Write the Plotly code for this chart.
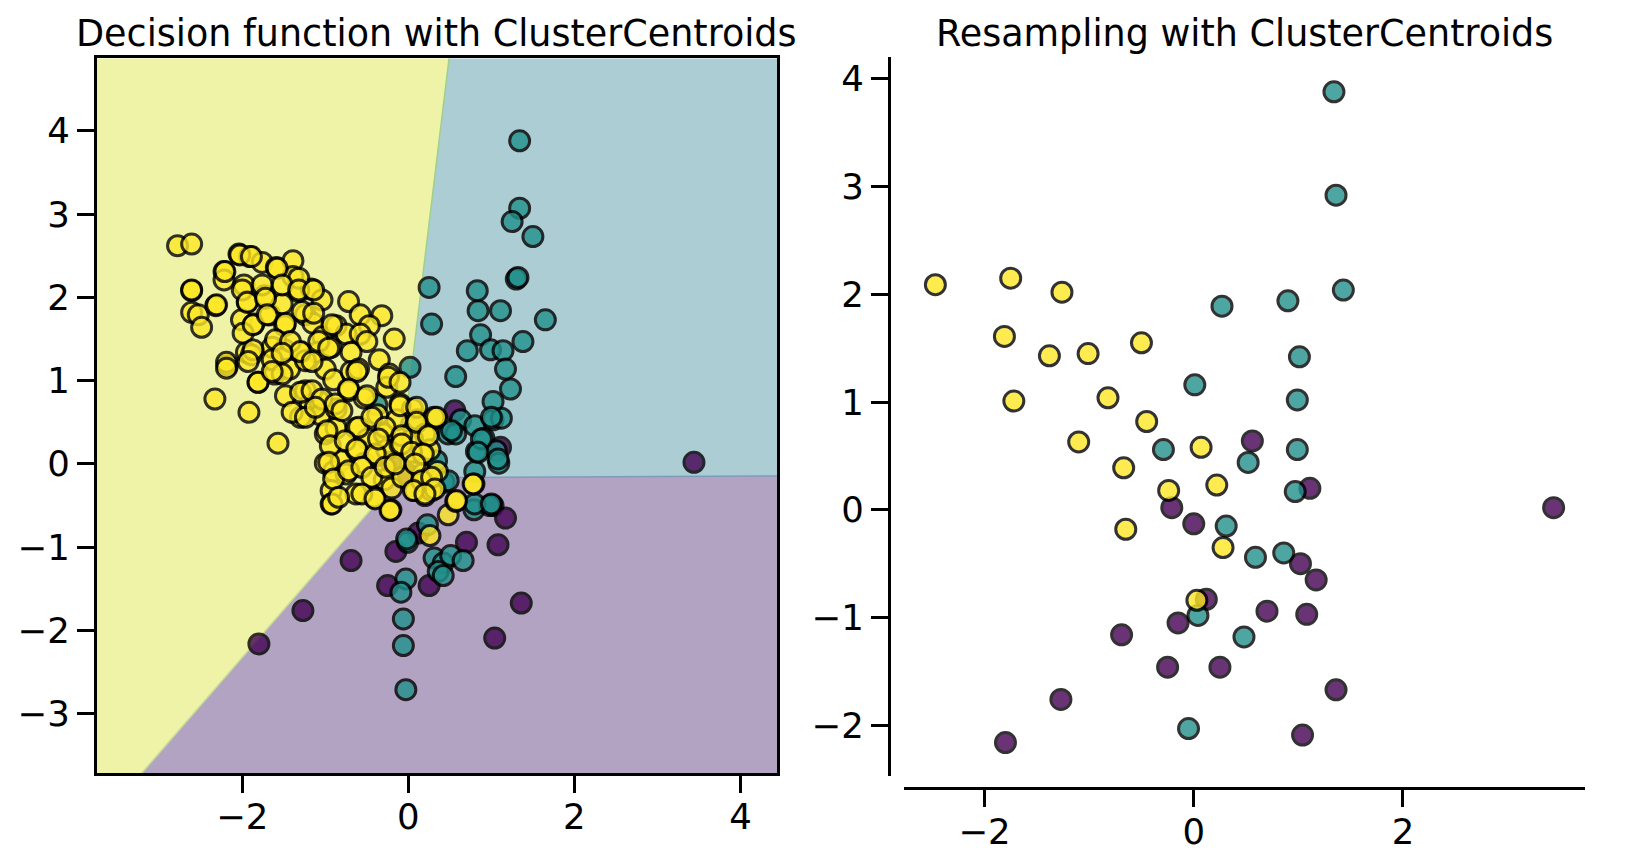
import plotly.graph_objects as go

# ---- data ----
# minority class (purple), identical in both panels
purple_pts = [(3.44, 0.02), (0.56, 0.64), (1.11, 0.20), (-0.21, 0.02), (0.00, -0.13),
              (1.02, -0.50), (1.17, -0.65), (0.12, -0.83), (0.70, -0.94), (1.08, -0.97),
              (-0.15, -1.05), (-0.69, -1.16), (-0.25, -1.46), (0.25, -1.46), (-1.27, -1.76),
              (1.36, -1.67), (-1.80, -2.16), (1.04, -2.09)]

# original teal class (left panel)
teal_pts = [(1.34, 3.88), (1.34, 3.07), (1.25, 2.91), (1.50, 2.73), (1.30, 2.22), (1.32, 2.24),
            (0.25, 2.12), (0.83, 2.08), (0.84, 1.84), (1.11, 1.84), (0.28, 1.68), (1.65, 1.73),
            (0.87, 1.55), (1.38, 1.47), (0.71, 1.36), (0.99, 1.37), (1.14, 1.36), (1.17, 1.14),
            (0.57, 1.05), (0.02, 1.16), (1.23, 0.90), (1.02, 0.75), (1.02, 0.53), (1.12, 0.55),
            (-0.38, 0.71), (0.63, 0.53), (0.48, 0.36), (0.57, 0.36), (0.80, 0.46), (0.91, 0.31),
            (0.82, 0.15), (1.06, 0.16), (1.09, 0.01), (0.34, 0.04), (0.80, -0.09), (0.43, -0.22),
            (0.79, -0.55), (0.98, -0.50), (0.23, -0.73), (-0.01, -0.94), (-0.02, -0.90),
            (0.31, -1.13), (0.42, -1.19), (0.51, -1.10), (0.66, -1.16), (0.36, -1.29),
            (0.42, -1.34), (-0.03, -1.38), (-0.09, -1.54), (-0.06, -1.86), (-0.06, -2.18),
            (-0.03, -2.71), (0.04, 0.48), (0.32, 0.54), (0.52, 0.40), (0.88, 0.30), (1.00, 0.56),
            (0.84, 0.14), (1.08, 0.06), (0.48, -0.20), (0.80, -0.48), (1.00, -0.48)]

# original yellow (majority) class (left panel)
yellow_pts = [(-2.78, 2.62), (-2.61, 2.64), (-2.61, 2.08), (-2.61, 1.82), (-2.53, 1.79),
              (-2.49, 1.64), (-2.32, 1.90), (-2.22, 2.31), (-2.22, 2.21), (-2.18, 1.18),
              (-2.33, 0.78), (-1.92, 0.62), (-1.57, 0.25), (-1.81, 0.98), (-2.04, 2.52),
              (-1.91, 2.49), (-1.76, 2.42), (-1.59, 2.36), (-1.39, 2.44), (-1.39, 2.25),
              (-1.32, 2.07), (-1.17, 2.10), (-1.04, 1.97), (-0.72, 1.95), (-0.58, 1.79),
              (-0.32, 1.78), (-0.47, 1.66), (-0.17, 1.50), (-1.98, 2.15), (-1.94, 1.95),
              (-2.01, 1.73), (-1.86, 1.68), (-1.73, 2.02), (-1.67, 1.79), (-1.52, 1.92),
              (-1.49, 1.66), (-1.24, 1.79), (-1.15, 1.69), (-1.03, 1.53), (-0.87, 1.66),
              (-0.75, 1.56), (-0.58, 1.56), (-0.50, 1.47), (-1.95, 1.34), (-1.89, 1.31),
              (-1.64, 1.40), (-1.49, 1.37), (-1.30, 1.34), (-1.09, 1.34), (-0.93, 1.40),
              (-0.69, 1.34), (-0.35, 1.25), (-1.61, 1.08), (-1.43, 1.14), (-1.24, 1.24),
              (-1.00, 1.14), (-0.90, 1.01), (-0.69, 1.11), (-0.60, 1.14), (-0.23, 1.08),
              (-0.26, 0.92), (-1.24, 0.88), (-1.18, 0.72), (-1.07, 0.75), (-1.30, 0.56),
              (-1.06, 0.59), (-0.87, 0.66), (-0.72, 0.88), (-0.53, 0.79), (-0.37, 0.59),
              (-0.10, 0.72), (0.05, 0.66), (-1.00, 0.36), (-0.87, 0.43), (-0.63, 0.43),
              (-0.49, 0.30), (-0.29, 0.36), (-0.14, 0.53), (0.11, 0.53), (0.31, 0.56),
              (0.20, 0.36), (-1.00, 0.01), (-0.90, -0.09), (-0.81, 0.04), (-0.75, -0.12),
              (-0.63, 0.17), (-0.53, 0.01), (-0.38, 0.10), (-0.26, 0.17), (-0.10, 0.23),
              (0.05, 0.30), (0.16, 0.12), (0.26, 0.17), (-0.93, -0.32), (-0.93, -0.48),
              (-0.63, -0.36), (-0.41, -0.40), (-0.21, -0.55), (-0.29, -0.19), (-0.20, -0.29),
              (-0.07, -0.16), (0.08, -0.32), (0.20, -0.38), (0.28, -0.32), (0.48, -0.61),
              (0.57, -0.45), (0.79, -0.24), (0.26, -0.86), (0.17, -0.12), (0.35, -0.09),
              (-2.21, 2.31), (-2.03, 2.51), (-1.89, 2.49), (-1.58, 2.35), (-1.32, 2.23),
              (-2.61, 2.09), (-2.31, 1.91), (-2.00, 2.09), (-1.94, 1.94), (-1.76, 2.15),
              (-1.72, 1.99), (-1.52, 2.15), (-1.32, 2.09), (-1.14, 2.09), (-1.99, 1.57),
              (-1.87, 1.67), (-1.70, 1.79), (-1.48, 1.69), (-1.28, 1.83), (-1.14, 1.81),
              (-0.92, 1.67), (-1.87, 1.37), (-1.60, 1.49), (-1.42, 1.47), (-1.30, 1.35),
              (-1.08, 1.47), (-0.96, 1.39), (-2.19, 1.22), (-1.93, 1.23), (-1.64, 1.25),
              (-1.52, 1.33), (-1.16, 1.23), (-2.19, 1.15), (-1.81, 0.98), (-1.48, 0.82),
              (-1.40, 0.62), (-1.24, 0.56), (-1.30, 0.86), (-1.16, 0.88), (-1.04, 0.78),
              (-0.98, 0.40), (-0.94, 0.22), (-0.96, 0.02), (-0.90, -0.18), (-0.92, -0.48),
              (-1.52, 1.08), (-1.64, 1.11), (-1.12, 0.68), (-0.88, 0.72), (-0.62, 1.11),
              (-0.72, 0.90), (-0.50, 0.82), (-0.24, 1.04), (-0.10, 0.70), (-0.10, 0.98),
              (0.10, 0.68), (0.34, 0.56), (-0.80, 0.64), (-0.60, 0.44), (-0.44, 0.56),
              (-0.28, 0.44), (-0.08, 0.34), (0.10, 0.50), (0.24, 0.34), (-0.76, 0.28),
              (-0.62, 0.18), (-0.40, 0.12), (-0.36, 0.30), (-0.08, 0.24), (0.04, 0.14),
              (0.18, 0.12), (-0.72, -0.08), (-0.56, -0.04), (-0.44, -0.16), (-0.28, -0.04),
              (-0.16, 0.00), (0.08, 0.00), (0.16, -0.20), (0.28, -0.16), (0.32, -0.30),
              (-0.84, -0.40), (-0.56, -0.36), (-0.40, -0.42), (-0.22, -0.56), (0.06, -0.32),
              (0.20, -0.36), (0.58, -0.44), (0.78, -0.24)]

# ClusterCentroids output (right panel)
res_yellow_pts = [(-2.47, 2.09), (-1.75, 2.15), (-1.26, 2.02), (-1.81, 1.61), (-1.38, 1.43),
                  (-1.01, 1.45), (-0.50, 1.55), (-1.72, 1.01), (-0.82, 1.04), (-0.45, 0.82),
                  (-1.10, 0.63), (-0.67, 0.39), (0.07, 0.58), (-0.24, 0.18), (0.22, 0.23),
                  (-0.65, -0.18), (0.28, -0.35), (0.03, -0.84)]
res_teal_pts = [(1.34, 3.88), (1.36, 2.92), (1.43, 2.04), (0.27, 1.89), (0.90, 1.94),
                (1.01, 1.42), (0.01, 1.16), (0.99, 1.02), (-0.29, 0.56), (0.99, 0.56),
                (0.52, 0.44), (0.97, 0.17), (0.31, -0.15), (0.59, -0.44), (0.86, -0.40),
                (0.04, -0.98), (0.48, -1.18), (-0.05, -2.03)]

# decision regions of the fitted classifier (polygon corners)
region_yellow = [(-3.75, -3.71), (-3.21, -3.71), (-0.12, -0.165), (0.49, 4.87), (-3.75, 4.87)]
region_teal = [(0.49, 4.87), (-0.12, -0.165), (4.44, -0.145), (4.44, 4.87)]
region_purple = [(-3.21, -3.71), (-0.12, -0.165), (4.44, -0.145), (4.44, -3.71)]

left_xrange = [-3.75, 4.44]
left_yrange = [-3.71, 4.87]
right_xrange = [-2.77, 3.74]
right_yrange = [-2.47, 4.20]

left_xticks = [-2, 0, 2, 4]
left_yticks = [-3, -2, -1, 0, 1, 2, 3, 4]
right_xticks = [-2, 0, 2]
right_yticks = [-2, -1, 0, 1, 2, 3, 4]

titles = ["Decision function with ClusterCentroids", "Resampling with ClusterCentroids"]

C_PURPLE, C_TEAL, C_YELLOW = "#440154", "#21918c", "#fde725"
FONT = "DejaVu Sans"
W, H = 1644, 852
VSTRETCH = 1.01  # small vertical correction measured on the rendered page


def px_x(p):
    return p / W


def px_y(p):
    return 1 - (58 + (p - 58) * VSTRETCH) / H


def lab(v):
    return str(v).replace("-", "\u2212")


def xs(pts):
    return [p[0] for p in pts]


def ys(pts):
    return [p[1] for p in pts]


def dots(pts, color, xa, ya):
    return go.Scatter(x=xs(pts), y=ys(pts), mode="markers", xaxis=xa, yaxis=ya,
                      marker=dict(size=20, color=color, opacity=0.8,
                                  line=dict(color="black", width=3)),
                      hoverinfo="skip", showlegend=False)


fig = go.Figure()

# shaded regions
for poly, fill in [(region_yellow, "#eff3a7"), (region_teal, "#abcdd3"), (region_purple, "#b2a3c2")]:
    closed = poly + poly[:1]
    fig.add_trace(go.Scatter(x=xs(closed), y=ys(closed), mode="lines", fill="toself",
                             fillcolor=fill, line=dict(width=0), xaxis="x", yaxis="y",
                             hoverinfo="skip", showlegend=False))

# thin edges between regions
for edge, col in [(region_teal[:2], "#9fd08c"), (region_teal[1:3], "#7f9bbb"),
                  (region_purple[:2], "#c6dc96")]:
    fig.add_trace(go.Scatter(x=xs(edge), y=ys(edge), mode="lines", xaxis="x", yaxis="y",
                             line=dict(color=col, width=1.5), hoverinfo="skip",
                             showlegend=False))

fig.add_trace(dots(purple_pts, C_PURPLE, "x", "y"))
fig.add_trace(dots(teal_pts, C_TEAL, "x", "y"))
fig.add_trace(dots(yellow_pts, C_YELLOW, "x", "y"))

fig.add_trace(dots(purple_pts, C_PURPLE, "x2", "y2"))
fig.add_trace(dots(res_teal_pts, C_TEAL, "x2", "y2"))
fig.add_trace(dots(res_yellow_pts, C_YELLOW, "x2", "y2"))

tickfont = dict(family=FONT, size=35.5, color="black")
common = dict(showgrid=False, zeroline=False, ticks="outside", ticklen=17, tickwidth=3,
              tickcolor="black", linecolor="black", linewidth=3, showline=True,
              tickfont=tickfont)

fig.update_layout(
    width=W, height=H,
    margin=dict(l=0, r=0, t=0, b=0),
    paper_bgcolor="white", plot_bgcolor="white",
    xaxis=dict(domain=[px_x(97), px_x(777)], range=left_xrange, mirror=True, anchor="y",
               ticklabelstandoff=-7,
               tickvals=left_xticks, ticktext=[lab(v) for v in left_xticks], **common),
    yaxis=dict(domain=[px_y(775), px_y(59)], range=left_yrange, mirror=True, anchor="x",
               tickvals=left_yticks, ticktext=[lab(v) for v in left_yticks], **common),
    xaxis2=dict(domain=[px_x(904), px_x(1585)], range=right_xrange, anchor="free",
                position=px_y(790), ticklabelstandoff=-6,
                tickvals=right_xticks, ticktext=[lab(v) for v in right_xticks], **common),
    yaxis2=dict(domain=[px_y(778), px_y(58)], range=right_yrange, anchor="free",
                position=px_x(889),
                tickvals=right_yticks, ticktext=[lab(v) for v in right_yticks], **common),
)

for txt, cx in zip(titles, [px_x((97 + 777) / 2), px_x((904 + 1585) / 2)]):
    fig.add_annotation(text=txt, x=cx, y=1 - 58 / H, xref="paper", yref="paper",
                       xanchor="center", yanchor="bottom", showarrow=False,
                       font=dict(family=FONT, size=36.5, color="black"))

# the figure fills the whole window, so drop the page's default body margin
fig.write_html("out.html", config={"displayModeBar": False},
               post_script="document.body.style.margin='0px';")
